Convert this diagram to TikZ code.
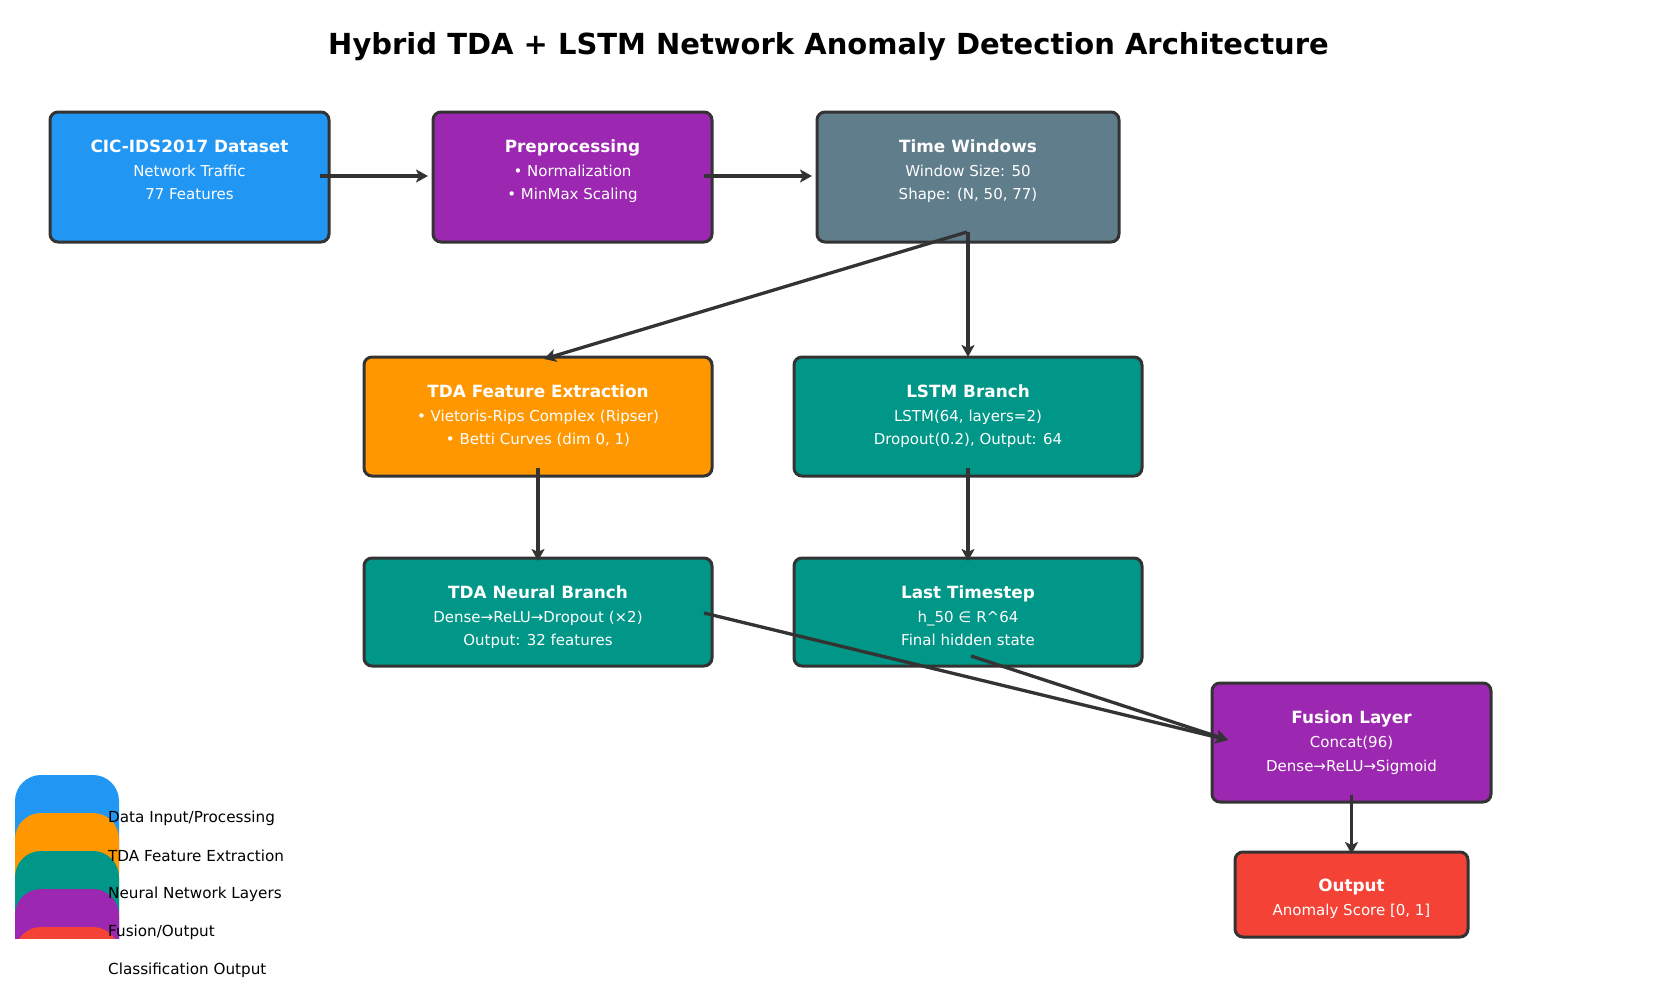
\documentclass[tikz,border=0pt]{standalone}
\usepackage{fontspec}
\setmainfont{DejaVu Sans}
\usetikzlibrary{arrows.meta,calc}
\definecolor{cblue}{HTML}{2196F3}
\definecolor{cpurple}{HTML}{9C27B0}
\definecolor{cgray}{HTML}{607D8B}
\definecolor{corange}{HTML}{FF9800}
\definecolor{cteal}{HTML}{009688}
\definecolor{cred}{HTML}{F44336}
\definecolor{cline}{HTML}{333333}
\tikzset{
  box/.style={draw=cline, line width=3pt, rounded corners=8pt, inner sep=0pt, outer sep=0pt},
  txt/.style={text=white, align=center, anchor=north, inner sep=0pt, font=\fontsize{15}{23.8}\selectfont},
  flow/.style={draw=cline, line width=3.3pt, -{Stealth[length=12pt,width=13pt,inset=3pt]}},
  legtxt/.style={anchor=west, inner sep=0pt, font=\fontsize{15.2}{17}\selectfont},
  legpatch/.style={rounded corners=26pt},
}
\newcommand{\bt}[1]{{\fontsize{16.85}{23.8}\selectfont\bfseries\rule{0pt}{16pt}#1}}
\begin{document}
\begin{tikzpicture}[x=1pt,y=-1pt]
\useasboundingbox (0,0) rectangle (1657,993);
\fill[white] (0,0) rectangle (1657,993);

\node[font=\fontsize{29}{34}\selectfont\bfseries, inner sep=0pt] (title) at (828.5,47) {Hybrid TDA + LSTM Network Anomaly Detection Architecture};

% boxes
\node[box, fill=cblue,   minimum width=279, minimum height=130] (cic)  at (189.5,177) {};
\node[box, fill=cpurple, minimum width=279, minimum height=130] (pre)  at (572.5,177) {};
\node[box, fill=cgray,   minimum width=302, minimum height=130] (tw)   at (968,177) {};
\node[box, fill=corange, minimum width=348, minimum height=119] (tfe)  at (538,416.5) {};
\node[box, fill=cteal,   minimum width=348, minimum height=119] (lstm) at (968,416.5) {};
\node[box, fill=cteal,   minimum width=348, minimum height=108] (tnb)  at (538,612) {};
\node[box, fill=cteal,   minimum width=348, minimum height=108] (last) at (968,612) {};
\node[box, fill=cpurple, minimum width=279, minimum height=119] (fus)  at (1351.5,742.5) {};
\node[box, fill=cred,    minimum width=233, minimum height=85]  (out)  at (1351.5,894.5) {};

% texts
\node[txt] (cic-t)  at (189.5,136) {\bt{CIC-IDS2017 Dataset}\\Network Traffic\\77 Features};
\node[txt] (pre-t)  at (572.5,136) {\bt{Preprocessing}\\• Normalization\\• MinMax Scaling};
\node[txt] (tw-t)   at (968,136) {\bt{Time Windows}\\Window Size: 50\\Shape: (N, 50, 77)};
\node[txt] (tfe-t)  at (538,381) {\bt{TDA Feature Extraction}\\• Vietoris-Rips Complex (Ripser)\\• Betti Curves (dim 0, 1)};
\node[txt] (lstm-t) at (968,381) {\bt{LSTM Branch}\\LSTM(64, layers=2)\\Dropout(0.2), Output: 64};
\node[txt] (tnb-t)  at (538,582) {\bt{TDA Neural Branch}\\Dense→ReLU→Dropout (×2)\\Output: 32 features};
\node[txt] (last-t) at (968,582) {\bt{Last Timestep}\\h\_50 ∈ R\textasciicircum 64\\Final hidden state};
\node[txt] (fus-t)  at (1351.5,707.5) {\bt{Fusion Layer}\\Concat(96)\\Dense→ReLU→Sigmoid};
\node[txt] (out-t)  at (1351.5,875.5) {\bt{Output}\\Anomaly Score [0, 1]};

% arrows
\draw[flow] ($(cic.east)+(-9,-1)$) -- ($(pre.west)+(-5,-1)$);
\draw[flow] ($(pre.east)+(-8,-1)$) -- ($(tw.west)+(-5,-1)$);
\draw[flow] ($(tw.south)+(-1,-10)$) -- ($(tfe.north)+(6,2)$);
\draw[flow] ($(tw.south)+(0,-10)$) -- ($(lstm.north)+(0,0)$);
\draw[flow] ($(tfe.south)+(0,-8)$) -- ($(tnb.north)+(0,3)$);
\draw[flow] ($(lstm.south)+(0,-8)$) -- ($(last.north)+(0,3)$);
\draw[flow] ($(tnb.east)+(-8,1)$) -- ($(fus.west)+(16,-2.5)$);
\draw[flow] ($(last.south)+(3,-10)$) -- ($(fus.west)+(16,-2.5)$);
\draw[flow] ($(fus.south)+(0,-7)$) -- ($(out.north)+(0,2)$);

% legend
\begin{scope}
\clip (0,0) rectangle (1657,938);
\fill[cblue,   legpatch] (15,775) rectangle (119,900);
\fill[corange, legpatch] (15,813) rectangle (119,940);
\fill[cteal,   legpatch] (15,851) rectangle (119,980);
\fill[cpurple, legpatch] (15,889) rectangle (119,1010);
\fill[cred,    legpatch] (15,927) rectangle (119,1050);
\end{scope}
\node[legtxt] (l1) at (108,818) {Data Input/Processing};
\node[legtxt] (l2) at (108,856) {TDA Feature Extraction};
\node[legtxt] (l3) at (108,894) {Neural Network Layers};
\node[legtxt] (l4) at (108,932) {Fusion/Output};
\node[legtxt] (l5) at (108,970) {Classification Output};
\end{tikzpicture}
\end{document}
